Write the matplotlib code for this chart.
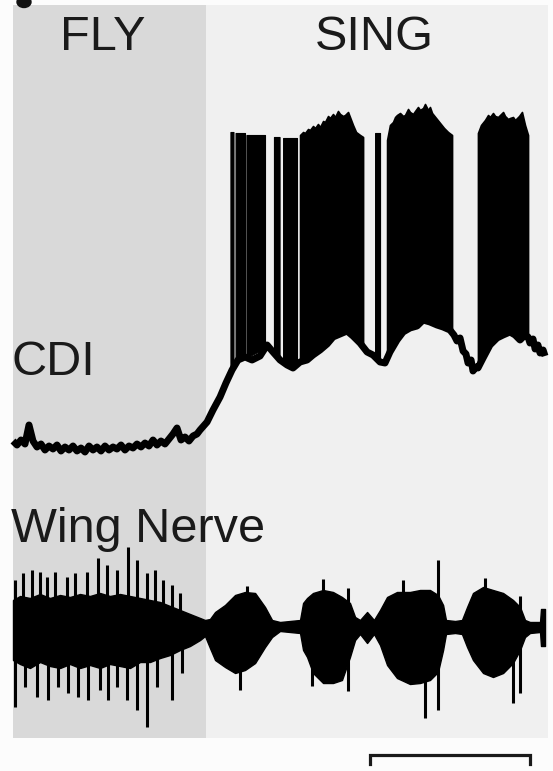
import numpy as np
import matplotlib
matplotlib.use("Agg")
import matplotlib.pyplot as plt
from matplotlib.patches import Ellipse

plt.rcParams["font.family"] = ["Liberation Sans", "DejaVu Sans"]

# ---------------- behavioural epochs (s) ----------------
epoch_names = ["FLY", "SING"]
epoch_start = [0.0, 1.206]
epoch_end = [1.206, 3.344]
epoch_colors = ["#d9d9d9", "#f0f0f0"]

# ---------------- CDI membrane potential (mV) ----------------
cdi_t = [0.000, 0.025, 0.050, 0.075, 0.100, 0.125, 0.150, 0.175, 0.200, 0.225,
         0.250, 0.275, 0.300, 0.325, 0.350, 0.375, 0.400, 0.425, 0.450, 0.475,
         0.500, 0.525, 0.550, 0.575, 0.600, 0.625, 0.650, 0.675, 0.700, 0.725,
         0.750, 0.775, 0.800, 0.825, 0.850, 0.875, 0.900, 0.925, 0.950, 0.975,
         1.000, 1.025, 1.050, 1.075, 1.100, 1.125, 1.150,
         1.169, 1.213, 1.250, 1.294, 1.331,
         1.369, 1.406, 1.450, 1.494, 1.544, 1.588, 1.625, 1.669, 1.713, 1.750,
         1.794, 1.838, 1.875, 1.919, 1.963, 2.000, 2.044, 2.088, 2.125, 2.169,
         2.213, 2.250, 2.294, 2.325, 2.356, 2.400, 2.438, 2.481, 2.525, 2.563,
         2.606, 2.650, 2.688, 2.731, 2.756, 2.775, 2.794, 2.813, 2.831, 2.844,
         2.863, 2.875, 2.894, 2.906, 2.938,
         2.981, 3.025, 3.063, 3.106, 3.138, 3.169, 3.200, 3.219, 3.231, 3.250,
         3.263, 3.281, 3.294, 3.313, 3.325]
cdi_mv = [-64.2, -65.0, -64.0, -64.8, -61.0, -64.2, -65.4, -64.8, -66.0, -65.2,
          -65.8, -65.0, -66.2, -65.4, -66.0, -65.2, -66.2, -65.6, -66.4, -65.2,
          -66.0, -65.4, -66.2, -65.2, -66.0, -65.4, -65.8, -65.0, -66.0, -65.2,
          -65.6, -64.8, -65.4, -64.6, -65.2, -64.0, -65.0, -64.2, -64.8, -63.8,
          -62.8, -61.6, -64.0, -63.4, -64.2, -63.2, -62.8,
          -62.0, -60.4, -58.0, -55.4, -52.6,
          -50.0, -48.0, -47.4, -48.0, -47.2, -45.0, -46.4, -48.0, -49.0, -49.6,
          -48.4, -48.0, -47.0, -46.0, -44.8, -43.4, -42.8, -42.2, -43.2, -44.6,
          -46.4, -47.0, -48.4, -48.6, -46.4, -44.0, -42.4, -41.6, -41.2, -40.0,
          -40.4, -41.0, -41.4, -42.0, -43.0, -44.2, -43.6, -46.2, -46.8, -48.6,
          -48.0, -50.2, -49.4, -49.6, -47.6,
          -45.0, -43.6, -43.0, -42.4, -43.0, -44.0, -43.0, -43.4, -44.6, -43.8,
          -45.8, -45.0, -46.6, -46.0, -47.2]

# resolved spike groups: onset, offset, peak (mV)
spk_on = [1.359, 1.391, 1.459, 1.631, 1.688, 2.263]
spk_off = [1.378, 1.450, 1.575, 1.666, 1.775, 2.294]
spk_peak = [-2.4, -2.6, -3.0, -3.4, -3.6, -2.6]

# high-frequency bursts: upper envelope of spike peaks (mV)
burst1_t = [1.794, 1.813, 1.825, 1.844, 1.856, 1.875, 1.888, 1.906, 1.919, 1.938,
            1.950, 1.969, 1.981, 2.000, 2.013, 2.031, 2.044, 2.063, 2.075, 2.094,
            2.106, 2.125, 2.144, 2.169, 2.188]
burst1_pk = [-3.0, -2.4, -2.6, -1.8, -2.0, -1.2, -1.6, -0.8, -1.4, -0.2,
             -0.4, 0.8, 0.4, 1.2, 0.6, 1.8, 1.2, 0.8, 1.0, 1.6,
             0.6, -1.0, -2.4, -3.0, -3.4]
burst2_t = [2.338, 2.356, 2.375, 2.388, 2.400, 2.419, 2.438, 2.450, 2.469, 2.481,
            2.500, 2.513, 2.531, 2.544, 2.563, 2.575, 2.594, 2.606, 2.619, 2.644,
            2.669, 2.694, 2.719, 2.744]
burst2_pk = [-4.0, -1.0, -0.4, 0.6, 1.0, 1.4, 0.8, 1.0, 2.2, 1.6,
             1.2, 1.8, 2.6, 2.0, 2.4, 3.2, 2.0, 2.6, 1.4, 0.4,
             -0.6, -1.6, -2.4, -3.0]
burst3_t = [2.906, 2.925, 2.950, 2.969, 2.981, 3.000, 3.013, 3.031, 3.044, 3.063,
            3.075, 3.094, 3.106, 3.125, 3.138, 3.163, 3.181, 3.200, 3.219]
burst3_pk = [-2.6, -1.0, 0.0, 1.0, 0.6, 1.4, 0.8, 0.6, 1.0, 1.6,
             0.8, 0.2, 0.4, 0.6, 0.0, 0.8, 1.6, -1.0, -3.0]

# ---------------- wing nerve recording (a.u.) ----------------
wn_t = [0.000, 0.044, 0.106, 0.169, 0.231, 0.294, 0.356, 0.419, 0.481, 0.544,
        0.606, 0.669, 0.731, 0.794, 0.856, 0.919, 0.981, 1.044, 1.106, 1.169,
        1.200, 1.231, 1.263, 1.325, 1.388, 1.450, 1.513, 1.575, 1.619, 1.669,
        1.731, 1.794, 1.813, 1.838, 1.875, 1.938, 2.000, 2.056, 2.106, 2.138,
        2.169, 2.213, 2.256, 2.294, 2.338, 2.400, 2.481, 2.544, 2.606, 2.656,
        2.688, 2.706, 2.763, 2.806, 2.838, 2.875, 2.938, 3.000, 3.063, 3.125,
        3.169, 3.200, 3.231, 3.294, 3.300, 3.325]
wn_hi = [26, 30, 28, 32, 28, 31, 29, 32, 30, 33,
         30, 32, 30, 28, 26, 24, 20, 16, 12, 8,
         6, 7, 14, 21, 31, 34, 33, 19, 6, 4,
         5, 6, 23, 28, 33, 36, 34, 29, 23, 9,
         6, 14, 6, 16, 29, 34, 34, 36, 36, 31,
         21, 6, 5, 6, 19, 33, 39, 36, 33, 26,
         19, 6, 4, 4, 17, 17]
wn_lo = [-34, -38, -42, -36, -40, -42, -38, -42, -39, -42,
         -38, -40, -42, -36, -36, -32, -29, -24, -20, -14,
         -10, -22, -34, -41, -47, -44, -37, -21, -11, -5,
         -6, -7, -24, -31, -47, -57, -57, -54, -31, -14,
         -8, -17, -8, -19, -39, -52, -58, -57, -54, -46,
         -24, -8, -7, -8, -21, -34, -47, -51, -47, -37,
         -24, -11, -7, -6, -20, -20]

wn_up_t = [0.013, 0.063, 0.119, 0.169, 0.213, 0.263, 0.338, 0.388, 0.463, 0.531,
           0.588, 0.650, 0.719, 0.775, 0.838, 0.888, 0.938, 0.994, 1.044,
           1.463, 1.938, 2.094, 2.438, 2.656, 2.950, 3.169]
wn_up_v = [46, 53, 56, 54, 49, 54, 49, 53, 54, 68,
           61, 56, 79, 66, 53, 56, 46, 41, 33,
           40, 47, 38, 46, 66, 48, 30]
wn_dn_t = [0.013, 0.075, 0.150, 0.219, 0.281, 0.344, 0.406, 0.469, 0.544, 0.594,
           0.650, 0.713, 0.775, 0.838, 0.900, 0.994, 1.056,
           1.419, 1.869, 2.094, 2.575, 2.656, 3.125, 3.169]
wn_dn_v = [-81, -61, -71, -74, -61, -67, -71, -74, -64, -74,
           -61, -74, -84, -101, -61, -74, -47,
           -64, -60, -65, -92, -84, -77, -67]

scale_t0 = 2.231     # start of the time scale bar (s)
scale_len = 1.0      # scale bar length (s)

# ---------------- layout ----------------
W, H = 553, 771
X0_PX, PX_PER_S = 13, 160.0            # time axis placement
CDI_Y0_PX, CDI_REF_MV, CDI_PX_PER_MV = 445, -65.0, 5.0
WN_Y0_PX, WN_PX_PER_UNIT = 626, 1.0

fig = plt.figure(figsize=(W / 100, H / 100), dpi=100)
fig.patch.set_facecolor("#fcfcfc")

xlim = (-X0_PX / PX_PER_S, (W - X0_PX) / PX_PER_S)

ax_bg = fig.add_axes([0, 0, 1, 1])
ax_cdi = fig.add_axes([0, 0, 1, 1])
ax_wn = fig.add_axes([0, 0, 1, 1])
for a in (ax_bg, ax_cdi, ax_wn):
    a.set_xlim(*xlim)
    a.axis("off")
    a.patch.set_alpha(0)

ax_cdi.set_ylim(CDI_REF_MV - (H - CDI_Y0_PX) / CDI_PX_PER_MV,
                CDI_REF_MV + CDI_Y0_PX / CDI_PX_PER_MV)
ax_wn.set_ylim(-(H - WN_Y0_PX) / WN_PX_PER_UNIT, WN_Y0_PX / WN_PX_PER_UNIT)

# epoch shading
for s, e, c in zip(epoch_start, epoch_end, epoch_colors):
    ax_bg.axvspan(s, e, ymin=1 - 738 / H, ymax=1 - 5 / H, color=c, lw=0)

# CDI trace
ct = np.array(cdi_t)
cv = np.array(cdi_mv)
for on, off, pk in zip(spk_on, spk_off, spk_peak):
    tt = np.array([on, off])
    ax_cdi.fill_between(tt, np.interp(tt, ct, cv), [pk, pk],
                        color="black", lw=0.8)
for bt, bp in ((burst1_t, burst1_pk), (burst2_t, burst2_pk), (burst3_t, burst3_pk)):
    bt = np.array(bt)
    ax_cdi.fill_between(bt, np.interp(bt, ct, cv), bp, color="black", lw=1.2)
ax_cdi.plot(ct, cv, color="black", lw=5.0, solid_joinstyle="round",
            solid_capstyle="butt")

# wing nerve trace
ax_wn.fill_between(wn_t, wn_lo, wn_hi, color="black", lw=1.0)
ax_wn.vlines(wn_up_t, 0, wn_up_v, color="black", lw=2.2)
ax_wn.vlines(wn_dn_t, 0, wn_dn_v, color="black", lw=2.2)

# time scale bar
sb_top = WN_Y0_PX - 755
sb_low = WN_Y0_PX - 764
ax_wn.plot([scale_t0, scale_t0, scale_t0 + scale_len, scale_t0 + scale_len],
           [sb_low, sb_top, sb_top, sb_low], color="#1a1a1a", lw=2.3,
           solid_joinstyle="miter")

# labels
fs = 35
txt_col = "#1a1a1a"
fig.text(102.5 / W, 1 - 50 / H, "FLY", ha="center", va="baseline",
         fontsize=fs, color=txt_col)
fig.text(374.5 / W, 1 - 50 / H, "SING", ha="center", va="baseline",
         fontsize=fs, color=txt_col)
fig.text(11 / W, 1 - 375 / H, "CDI", ha="left", va="baseline",
         fontsize=fs, color=txt_col)
fig.text(11 / W, 1 - 542 / H, "Wing Nerve", ha="left", va="baseline",
         fontsize=fs, color=txt_col)

# fragment of the panel letter at the upper-left edge
fig.patches.append(Ellipse((24 / W, 1 - 2 / H), 14 / W, 11 / H,
                           transform=fig.transFigure, color="#111111"))

fig.savefig("out.png", dpi=100, facecolor=fig.get_facecolor())
